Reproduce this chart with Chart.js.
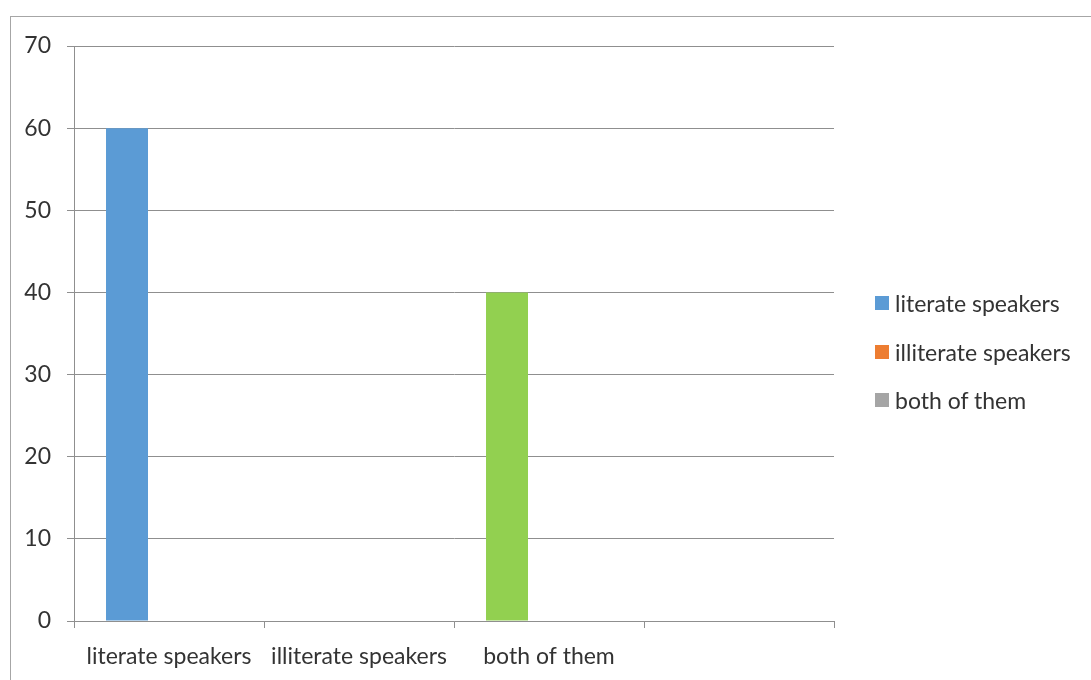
<!DOCTYPE html>
<html>
<head>
<meta charset="utf-8">
<script src="https://cdn.jsdelivr.net/npm/chart.js@4/dist/chart.umd.min.js"></script>
<style>
  html, body { margin: 0; padding: 0; background: #fff; }
  body { width: 1091px; height: 680px; position: relative; overflow: hidden; font-family: Lato, "Open Sans", sans-serif; }
  #frame { position: absolute; left: 10px; top: 16px; width: 1100px; height: 700px; border: 1px solid #a6a6a6; box-sizing: border-box; }
  #wrap { position: absolute; left: 0; top: 0; width: 1091px; height: 680px; }
  #legend { position: absolute; left: 875px; top: 279px; color: #333; font-size: 23px; }
  .item { display: flex; align-items: center; height: 48.5px; margin: 0; }
  .sw { width: 14px; height: 14px; margin-right: 6px; }
</style>
</head>
<body>
<div id="frame"></div>
<div id="wrap"><canvas id="c" width="1091" height="680"></canvas></div>
<div id="legend"></div>
<script>
// categories along the x axis (fourth slot is left empty)
const categories = ['literate speakers', 'illiterate speakers', 'both of them', ''];
// series names
const seriesNames = ['literate speakers', 'illiterate speakers', 'both of them'];
// series values per category
const literateValues = [60, 0, 40, 0];
const illiterateValues = [0, 0, 0, 0];
const bothValues = [0, 0, 0, 0];
// y axis ticks
const yTicks = [0, 10, 20, 30, 40, 50, 60, 70];

const BLUE = '#5B9BD5', ORANGE = '#ED7D31', GREY = '#A5A5A5', GREEN = '#92D050';
const TEXT = '#333333';
const GRID = '#8f8f8f';
const FONT = 'Lato, "Open Sans", sans-serif';

const data = {
  labels: categories,
  datasets: [
    { label: seriesNames[0], data: literateValues, backgroundColor: [BLUE, BLUE, GREEN, BLUE], legendColor: BLUE },
    { label: seriesNames[1], data: illiterateValues, backgroundColor: ORANGE, legendColor: ORANGE },
    { label: seriesNames[2], data: bothValues, backgroundColor: GREY, legendColor: GREY }
  ]
};

const chart = new Chart(document.getElementById('c'), {
  type: 'bar',
  data,
  options: {
    responsive: false,
    animation: false,
    devicePixelRatio: 1,
    layout: { padding: { left: 10, top: 46, right: 257, bottom: 0 } },
    plugins: { legend: { display: false }, tooltip: { enabled: false } },
    datasets: { bar: { categoryPercentage: 0.663, barPercentage: 1.0, borderWidth: 0 } },
    scales: {
      x: {
        afterFit(scale) { scale.height = 59; },
        grid: { offset: true, drawOnChartArea: false, drawTicks: true, tickLength: 7, color: GRID, lineWidth: 1 },
        border: { display: true, color: GRID, width: 1 },
        ticks: { color: TEXT, font: { family: FONT, size: 23 }, padding: 15, maxRotation: 0, autoSkip: false }
      },
      y: {
        min: 0, max: 70,
        afterFit(scale) { scale.width = 64; },
        afterBuildTicks(scale) { scale.ticks = yTicks.map(v => ({ value: v })); },
        grid: { drawTicks: true, tickLength: 7, color: GRID, lineWidth: 1 },
        border: { display: true, color: GRID, width: 1 },
        ticks: { color: TEXT, font: { family: FONT, size: 23 }, padding: 16 }
      }
    }
  }
});

// legend built from the chart's own datasets
const legendEl = document.getElementById('legend');
chart.data.datasets.forEach(ds => {
  const item = document.createElement('div');
  item.className = 'item';
  const sw = document.createElement('span');
  sw.className = 'sw';
  sw.style.background = ds.legendColor;
  const t = document.createElement('span');
  t.textContent = ds.label;
  item.appendChild(sw);
  item.appendChild(t);
  legendEl.appendChild(item);
});
</script>
</body>
</html>
